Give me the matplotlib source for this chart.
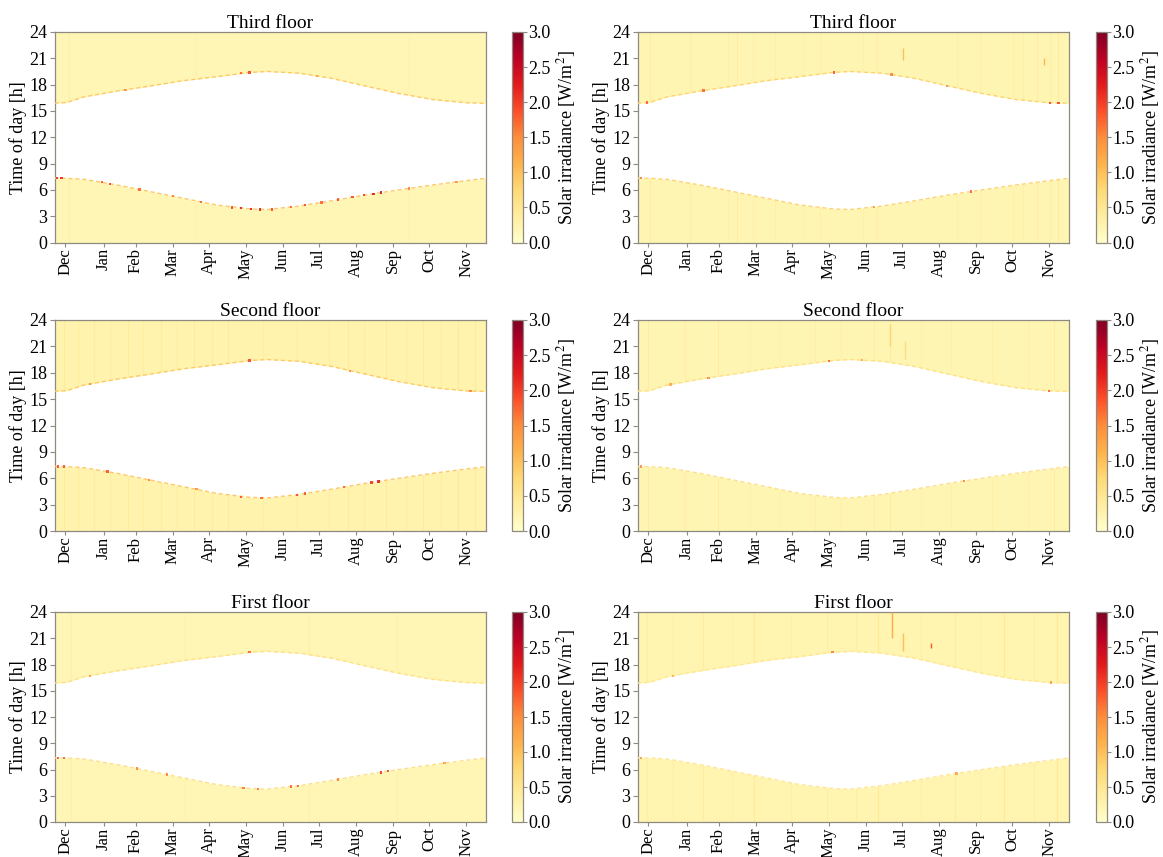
import numpy as np
import matplotlib
matplotlib.use("Agg")
import matplotlib.pyplot as plt
from matplotlib.colors import Normalize
from matplotlib.cm import ScalarMappable
from matplotlib.collections import LineCollection

plt.rcParams['font.family'] = ['Liberation Serif', 'DejaVu Serif']
plt.rcParams['mathtext.fontset'] = 'stix'

# ---------------- data ----------------
months = ['Dec', 'Jan', 'Feb', 'Mar', 'Apr', 'May', 'Jun', 'Jul', 'Aug', 'Sep', 'Oct', 'Nov']
month_tick_day = [9.3, 41.5, 68.6, 99.9, 130.4, 161.8, 193.1, 223.6, 254.9, 286.2, 316.7, 348.1]
hour_ticks = [0, 3, 6, 9, 12, 15, 18, 21, 24]

# boundary of the night region (day index from start of record)
boundary_day = [0, 10, 25, 53, 81, 109, 137, 166, 180, 207, 235, 263, 291, 320, 348, 365]
morning_edge_h = [7.33, 7.32, 7.2, 6.56, 5.8, 5.04, 4.28, 3.82, 3.76, 4.16, 4.77, 5.42, 5.99, 6.56, 7.05, 7.32]
evening_edge_h = [15.9, 15.95, 16.6, 17.27, 17.84, 18.45, 18.9, 19.4, 19.5, 19.3, 18.7, 17.84, 17.0, 16.3, 15.94, 15.87]

titles = ['Third floor', 'Third floor', 'Second floor', 'Second floor', 'First floor', 'First floor']
night_level = [0.2, 0.22, 0.26, 0.22, 0.2, 0.24]
edge_level = [0.9, 0.8, 0.9, 0.6, 0.6, 0.5]

# faint vertical streaks: (day, value)
streaks = [
    [(12, 0.35), (120, 0.3), (300, 0.3)],
    [(10.6, 0.45), (44.5, 0.4), (76.6, 0.35), (84.3, 0.45), (97.8, 0.35), (116, 0.4), (140, 0.35),
     (154, 0.4), (191, 0.35), (203, 0.4), (270, 0.35), (290, 0.4), (318, 0.35), (326, 0.4),
     (338, 0.45), (349, 0.4), (356, 0.5)],
    [(8, 0.45), (20, 0.4), (33, 0.45), (47, 0.4), (62, 0.45), (75, 0.4), (90, 0.45), (104, 0.4),
     (118, 0.45), (133, 0.4), (147, 0.45), (176, 0.4), (205, 0.4), (232, 0.4), (248, 0.45),
     (262, 0.4), (280, 0.45), (297, 0.4), (312, 0.45), (327, 0.4), (341, 0.5), (356, 0.45)],
    [(9, 0.45), (40, 0.4), (68, 0.45), (95, 0.35), (120, 0.35), (150, 0.4), (172, 0.4),
     (200, 0.45), (214, 0.5), (240, 0.35), (265, 0.35), (300, 0.4), (330, 0.4), (352, 0.45)],
    [(14, 0.35), (110, 0.3), (215, 0.35), (290, 0.3)],
    [(8, 0.4), (30, 0.35), (55, 0.45), (80, 0.35), (98.6, 0.5), (130, 0.35), (160, 0.4),
     (185, 0.4), (203.7, 0.55), (240, 0.35), (268.8, 0.45), (290, 0.35), (310, 0.5),
     (335, 0.4), (355, 0.55)],
]

# short brighter streaks: (day, hour start, hour end, value)
short_streaks = [
    [],
    [(225, 20.8, 22.2, 1.0), (344, 20.2, 21.0, 1.1)],
    [],
    [(214, 21.0, 23.5, 0.8), (226, 19.6, 21.6, 0.7)],
    [],
    [(215.5, 21.0, 24.0, 1.2), (224.7, 19.6, 21.6, 1.0), (248.5, 19.9, 20.5, 1.8)],
]

# brighter cells on the edge of the night region: (day, hour, value)
edge_spots = [
    [(2, 7.33, 2.2), (6, 7.33, 2.2), (40, 6.9, 1.9), (47, 6.7, 2.0), (72, 6.05, 1.8), (100, 5.3, 1.6),
     (124, 4.65, 1.8), (150, 4.0, 2.0), (158, 3.9, 2.3), (166, 3.82, 2.4), (174, 3.78, 2.3),
     (184, 3.78, 2.0), (200, 4.06, 1.8), (212, 4.27, 2.0), (226, 4.57, 1.8), (240, 4.88, 1.9),
     (252, 5.17, 2.0), (262, 5.4, 2.1), (270, 5.55, 2.4), (276, 5.68, 2.4), (300, 6.17, 1.6),
     (340, 6.92, 1.5), (165, 19.4, 2.0), (158, 19.3, 1.8), (60, 17.42, 1.5), (222, 19.0, 1.4)],
    [(3, 7.33, 1.6), (8, 15.95, 1.8), (56, 17.33, 1.8), (166, 19.4, 1.9), (215, 19.15, 1.6),
     (262, 17.84, 1.5), (282, 5.82, 1.8), (349, 15.92, 2.0), (356, 15.88, 2.0), (200, 4.06, 1.4)],
    [(3, 7.33, 2.0), (8, 7.33, 1.9), (45, 6.75, 1.9), (80, 5.82, 1.6), (120, 4.8, 1.5), (158, 3.9, 1.9),
     (175, 3.78, 1.8), (205, 4.12, 2.0), (212, 4.27, 1.9), (245, 5.0, 1.8), (268, 5.5, 2.1),
     (274, 5.65, 2.3), (165, 19.4, 2.0), (30, 16.7, 1.5), (250, 18.2, 1.5), (352, 15.92, 1.6)],
    [(3, 7.33, 1.5), (60, 17.42, 1.5), (162, 19.37, 1.8), (276, 5.68, 1.6), (348, 15.94, 1.8),
     (28, 16.65, 1.3), (190, 19.45, 1.3)],
    [(3, 7.33, 1.9), (8, 7.33, 1.8), (70, 6.1, 1.6), (95, 5.45, 1.6), (160, 3.86, 1.7),
     (172, 3.78, 1.7), (200, 4.06, 1.8), (206, 4.14, 1.8), (240, 4.88, 1.6), (276, 5.68, 2.1),
     (282, 5.82, 2.0), (165, 19.4, 1.8), (30, 16.7, 1.3), (330, 6.75, 1.4)],
    [(3, 7.33, 1.4), (165, 19.4, 1.6), (350, 15.92, 1.4), (30, 16.7, 1.2), (270, 5.55, 1.3)],
]

# ---------------- drawing ----------------
cmap = plt.get_cmap('YlOrRd')
norm = Normalize(vmin=0.0, vmax=3.0)

fig = plt.figure(figsize=(11.63, 8.57), dpi=100)
W, H = 1163.0, 857.0
col_x = [54.5, 637.5]
cbar_x = [512.0, 1095.5]
row_y = [(32.0, 242.5), (320.0, 531.0), (612.0, 822.0)]
ax_w = 431.5
cb_w = 11.0
frame_color = '#8f8a80'

for i in range(6):
    r, c = divmod(i, 2)
    top, bot = row_y[r]
    ax = fig.add_axes([col_x[c] / W, 1 - bot / H, ax_w / W, (bot - top) / H])
    cax = fig.add_axes([cbar_x[c] / W, 1 - bot / H, cb_w / W, (bot - top) / H])

    bg = cmap(norm(night_level[i]))
    p1 = ax.fill_between(boundary_day, 0, morning_edge_h, color=bg, lw=0, zorder=1)
    p2 = ax.fill_between(boundary_day, evening_edge_h, 24, color=bg, lw=0, zorder=1)

    # streaks clipped to the night regions
    for poly in (p1, p2):
        segs = [[(d, 0), (d, 24)] for d, v in streaks[i]]
        cols = [cmap(norm(v)) for d, v in streaks[i]]
        lc = LineCollection(segs, colors=cols, linewidths=0.8, zorder=2, alpha=0.7)
        ax.add_collection(lc)
        lc.set_clip_path(poly.get_paths()[0], ax.transData)
    for d, h0, h1, v in short_streaks[i]:
        ax.plot([d, d], [h0, h1], color=cmap(norm(v)), lw=1.0, zorder=3, solid_capstyle='butt')

    ec = cmap(norm(edge_level[i]))
    ax.plot(boundary_day, morning_edge_h, color=ec, lw=1.0, ls=(0, (3, 2)), zorder=3)
    ax.plot(boundary_day, evening_edge_h, color=ec, lw=1.0, ls=(0, (3, 2)), zorder=3)
    if edge_spots[i]:
        sd = [s[0] for s in edge_spots[i]]
        sh = [s[1] for s in edge_spots[i]]
        sv = [s[2] for s in edge_spots[i]]
        ax.scatter(sd, sh, c=sv, cmap=cmap, norm=norm, marker='s', s=3, lw=0, zorder=4, alpha=0.85)

    ax.set_xlim(0, 365)
    ax.set_ylim(0, 24)
    ax.set_xticks(month_tick_day)
    ax.set_xticklabels(months, rotation=90, fontsize=12)
    ax.set_yticks(hour_ticks)
    ax.set_yticklabels([str(h) for h in hour_ticks], fontsize=13)
    ax.set_ylabel('Time of day [h]', fontsize=13, labelpad=2)
    ax.set_title(titles[i], fontsize=14, pad=1.5)
    ax.tick_params(axis='y', direction='out', length=3.5, width=0.8, color=frame_color, pad=1.5)
    ax.tick_params(axis='x', direction='out', length=3.0, width=0.8, color=frame_color, pad=1.0)
    for sp in ax.spines.values():
        sp.set_color(frame_color)
        sp.set_linewidth(0.9)

    sm = ScalarMappable(norm=norm, cmap=cmap)
    cb = fig.colorbar(sm, cax=cax, ticks=[0, 0.5, 1.0, 1.5, 2.0, 2.5, 3.0], format='%.1f')
    cb.ax.tick_params(labelsize=13, length=3, width=0.8, color=frame_color, pad=1)
    cb.outline.set_edgecolor(frame_color)
    cb.outline.set_linewidth(0.9)
    cb.set_label('Solar irradiance [W/m$^2$]', fontsize=13, labelpad=3)

fig.savefig('out.png', dpi=100)
